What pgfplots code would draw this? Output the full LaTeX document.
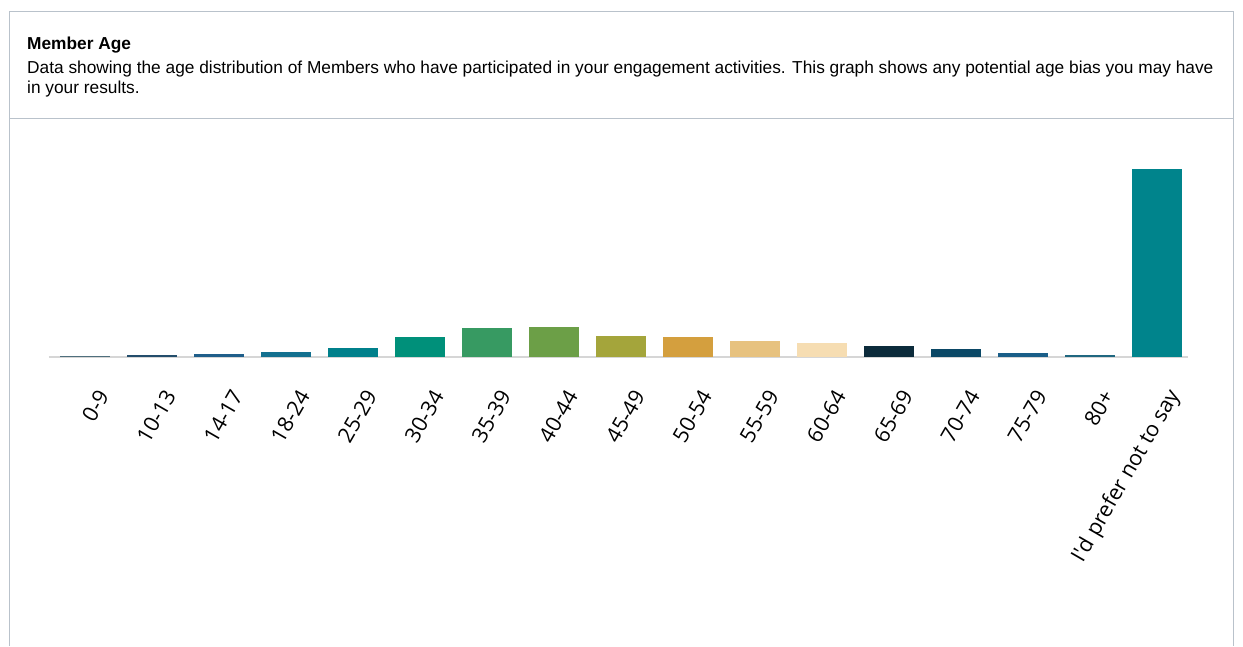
\documentclass[border=0pt]{standalone}
\usepackage{pgfplots}
\pgfplotsset{compat=1.18}
\usepackage{fontspec}
\setmainfont{Liberation Sans}
\newfontfamily\labelfont{Open Sans}
\definecolor{boxgray}{HTML}{B9C2CB}
\definecolor{axisgray}{HTML}{D6D6D6}
\definecolor{c00}{HTML}{4F6F7D}
\definecolor{c01}{HTML}{234D6B}
\definecolor{c02}{HTML}{1F5E8A}
\definecolor{c03}{HTML}{13708F}
\definecolor{c04}{HTML}{00808B}
\definecolor{c05}{HTML}{00907A}
\definecolor{c06}{HTML}{379A62}
\definecolor{c07}{HTML}{6C9F47}
\definecolor{c08}{HTML}{A4A53B}
\definecolor{c09}{HTML}{D49F3E}
\definecolor{c10}{HTML}{E7C27F}
\definecolor{c11}{HTML}{F6DDB2}
\definecolor{c12}{HTML}{0C2B3B}
\definecolor{c13}{HTML}{0B4866}
\definecolor{c14}{HTML}{1A5E88}
\definecolor{c15}{HTML}{1F6780}
\definecolor{c16}{HTML}{00848C}
\begin{document}
\begin{tikzpicture}[x=1pt,y=1pt]
\path[use as bounding box] (0,0) rectangle (1243,-646);
\draw[boxgray, line width=1pt] (9.5,-646) -- (9.5,-11) -- (1233.5,-11) -- (1233.5,-646);
\draw[boxgray, line width=1pt] (9.5,-118) -- (1233.5,-118);
\node[anchor=base west, inner sep=0pt, font=\fontsize{17.3}{20}\selectfont\bfseries] at (27,-49) {Member Age};
\node[anchor=base west, inner sep=0pt, font=\fontsize{17.3}{20}\selectfont] at (27,-73) {Data showing the age distribution of Members who have participated in your engagement activities. This graph shows any potential age bias you may have};
\node[anchor=base west, inner sep=0pt, font=\fontsize{17.3}{20}\selectfont] at (27,-93) {in your results.};
\begin{axis}[
  at={(72.8,-357)}, anchor=south west,
  scale only axis, width=1139pt, height=200pt,
  xmin=-0.54, xmax=16.46, ymin=0, ymax=200,
  axis x line=bottom, axis y line=none,
  x axis line style={-, draw=axisgray, line width=1.3pt},
  xtick={0,...,16},
  xticklabels={0-9,10-13,14-17,18-24,25-29,30-34,35-39,40-44,45-49,50-54,55-59,60-64,65-69,70-74,75-79,80+,I\textquotesingle d prefer not to say},
  major tick length=0pt,
  xticklabel style={xshift=20pt, yshift=-32pt, rotate=60, anchor=east, font=\labelfont\fontsize{21.4}{23}\selectfont},
  ytick=\empty,
  clip=false,
]
\addplot[ybar, bar width=50pt, fill=c00, draw=none] coordinates {(0,1.0)};
\addplot[ybar, bar width=50pt, fill=c01, draw=none] coordinates {(1,1.8)};
\addplot[ybar, bar width=50pt, fill=c02, draw=none] coordinates {(2,2.8)};
\addplot[ybar, bar width=50pt, fill=c03, draw=none] coordinates {(3,4.6)};
\addplot[ybar, bar width=50pt, fill=c04, draw=none] coordinates {(4,9.2)};
\addplot[ybar, bar width=50pt, fill=c05, draw=none] coordinates {(5,19.8)};
\addplot[ybar, bar width=50pt, fill=c06, draw=none] coordinates {(6,28.6)};
\addplot[ybar, bar width=50pt, fill=c07, draw=none] coordinates {(7,29.6)};
\addplot[ybar, bar width=50pt, fill=c08, draw=none] coordinates {(8,21.4)};
\addplot[ybar, bar width=50pt, fill=c09, draw=none] coordinates {(9,20.4)};
\addplot[ybar, bar width=50pt, fill=c10, draw=none] coordinates {(10,16.4)};
\addplot[ybar, bar width=50pt, fill=c11, draw=none] coordinates {(11,14.4)};
\addplot[ybar, bar width=50pt, fill=c12, draw=none] coordinates {(12,10.8)};
\addplot[ybar, bar width=50pt, fill=c13, draw=none] coordinates {(13,7.8)};
\addplot[ybar, bar width=50pt, fill=c14, draw=none] coordinates {(14,3.8)};
\addplot[ybar, bar width=50pt, fill=c15, draw=none] coordinates {(15,1.8)};
\addplot[ybar, bar width=50pt, fill=c16, draw=none] coordinates {(16,188.0)};
\end{axis}
\end{tikzpicture}
\end{document}
